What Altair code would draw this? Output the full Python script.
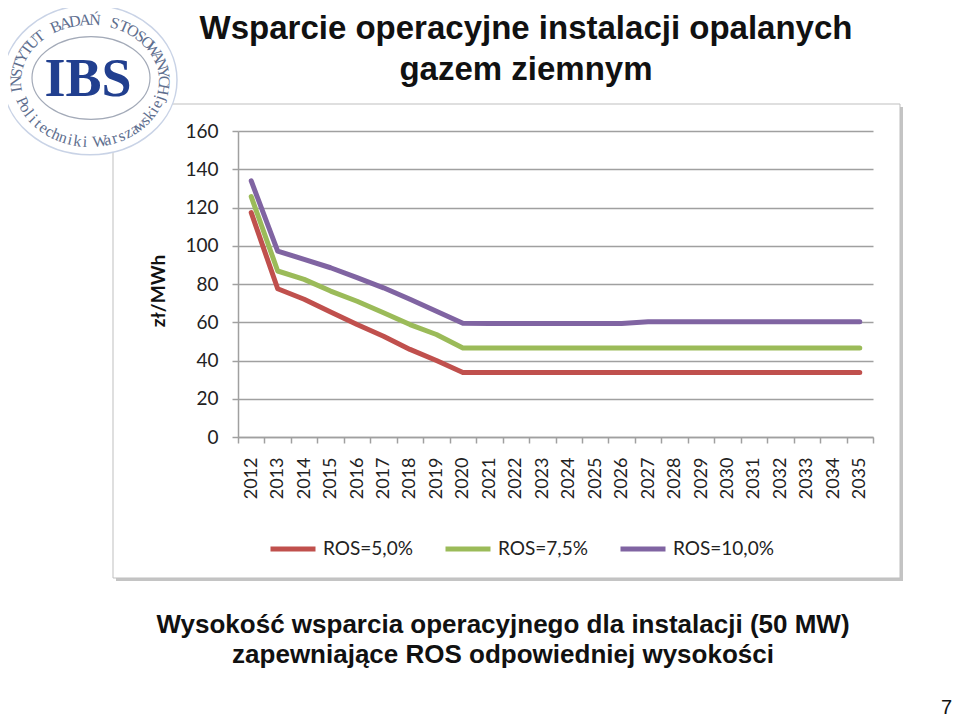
import altair as alt
import pandas as pd
import numpy as np

# ---------------- data ----------------
years = list(range(2012, 2036))
series_names = ["ROS=5,0%", "ROS=7,5%", "ROS=10,0%"]
series_colors = ["#C0504D", "#9BBB59", "#8064A2"]
ros_5 = [117.3, 77.5, 72.0, 65.3, 58.8, 52.7, 45.8, 40.0, 33.7,
         33.7, 33.7, 33.7, 33.7, 33.7, 33.7, 33.7, 33.7, 33.7,
         33.7, 33.7, 33.7, 33.7, 33.7, 33.7]
ros_75 = [125.7, 86.8, 82.4, 76.3, 71.0, 65.0, 58.8, 53.6, 46.5,
          46.5, 46.5, 46.5, 46.5, 46.5, 46.5, 46.5, 46.5, 46.5,
          46.5, 46.5, 46.5, 46.5, 46.5, 46.5]
ros_10 = [133.9, 97.2, 92.9, 88.5, 83.3, 78.0, 72.0, 65.8, 59.5,
          59.4, 59.4, 59.4, 59.4, 59.4, 59.4, 60.2, 60.2, 60.2,
          60.2, 60.2, 60.2, 60.2, 60.2, 60.2]
y_ticks = [0, 20, 40, 60, 80, 100, 120, 140, 160]
x_tick_bounds = [y - 0.5 for y in years] + [years[-1] + 0.5]

title_lines = ["Wsparcie operacyjne instalacji opalanych", "gazem ziemnym"]
caption_lines = ["Wysokość wsparcia operacyjnego dla instalacji (50 MW)",
                 "zapewniające ROS odpowiedniej wysokości"]
y_title = "zł/MWh"
page_no = "7"
logo_top = "INSTYTUT BADAŃ STOSOWANYCH"
logo_bottom = "Politechniki Warszawskiej"

rows = []
for name, vals in zip(series_names, [ros_5, ros_75, ros_10]):
    for yr, v in zip(years, vals):
        rows.append({"year": yr, "value": v, "series": name})
df = pd.DataFrame(rows)

# plot origin in page coords: (238, 131)
OX, OY = 238, 131
W, H = 635, 306

one = alt.Data(values=[{}])

# ---------------- main lines ----------------
lines = alt.Chart(df).mark_line(strokeWidth=5, strokeCap="round", strokeJoin="round").encode(
    x=alt.X("year:Q",
            scale=alt.Scale(domain=[2011.5, 2035.5], nice=False, zero=False),
            axis=alt.Axis(values=x_tick_bounds,
                          labelExpr="datum.value < 2035 ? format(datum.value + 0.5, 'd') : ''",
                          labelOffset=W / 48.0, labelAngle=270, labelFlush=False,
                          labelOverlap=False, labelBound=False,
                          labelFont="Lato", labelFontSize=18, labelColor="#222222",
                          labelPadding=14, tickSize=6, tickColor="#A0A0A0", tickWidth=1.5,
                          domainColor="#A0A0A0", domainWidth=1.5, grid=False, title=None)),
    y=alt.Y("value:Q",
            scale=alt.Scale(domain=[0, 160], nice=False, zero=True),
            axis=alt.Axis(values=y_ticks, format="d", labelFont="Lato", labelFontSize=19,
                          labelColor="#222222", labelPadding=14, tickSize=6,
                          tickColor="#A0A0A0", tickWidth=1.5, domainColor="#A0A0A0",
                          domainWidth=1.5, grid=True, gridColor="#A0A0A0", gridWidth=1.5,
                          title=None)),
    color=alt.Color("series:N",
                    scale=alt.Scale(domain=series_names, range=series_colors),
                    legend=alt.Legend(orient="none", legendX=30, legendY=393,
                                      direction="horizontal", title=None,
                                      symbolType="stroke", symbolSize=2025,
                                      symbolStrokeWidth=5, labelFont="Lato",
                                      labelFontSize=19, labelColor="#222222",
                                      labelOffset=5, columnPadding=22)),
)

# ---------------- frame ----------------
frame = alt.Chart(one).mark_rect(fillOpacity=0, stroke="#BFBFBF", strokeWidth=1).encode(
    x=alt.value(113 - OX), x2=alt.value(900 - OX), y=alt.value(104 - OY), y2=alt.value(578 - OY))
shadow_r = alt.Chart(one).mark_rect(fill="#C4C4C4").encode(
    x=alt.value(900 - OX), x2=alt.value(903 - OX), y=alt.value(107 - OY), y2=alt.value(581 - OY))
shadow_b = alt.Chart(one).mark_rect(fill="#C4C4C4").encode(
    x=alt.value(116 - OX), x2=alt.value(903 - OX), y=alt.value(578 - OY), y2=alt.value(581 - OY))

# ---------------- logo ----------------
def ellipse_path(ratio):
    return f"M -1 0 A 1 {ratio} 0 1 1 1 0 A 1 {ratio} 0 1 1 -1 0 Z"

logo_bg = alt.Chart(one).mark_point(shape=ellipse_path(0.86), size=174 ** 2, filled=True,
                                    fill="white", stroke="#C9D3E6", strokeWidth=1.5,
                                    opacity=1).encode(
    x=alt.value(90 - OX), y=alt.value(80 - OY))
logo_inner = alt.Chart(one).mark_point(shape=ellipse_path(0.7), size=118 ** 2, filled=False,
                                       stroke="#A3AAB8", strokeWidth=1.2, opacity=1).encode(
    x=alt.value(91 - OX), y=alt.value(78 - OY))
logo_ibs = alt.Chart(one).mark_text(text="IBS", font="Liberation Serif", fontWeight="bold",
                                    fontSize=54, color="#213F8F", align="center",
                                    baseline="middle").encode(
    x=alt.value(88 - OX), y=alt.value(80 - OY))

cx, cy, rx, ry = 90 - OX, 81 - OY, 74, 61
ring = []
t_top = np.radians(np.linspace(172, 368, len(logo_top)))
for ch, t in zip(logo_top, t_top):
    ang = np.degrees(np.arctan2(ry * np.cos(t), -rx * np.sin(t))) % 360
    ring.append({"ch": ch, "px": cx + rx * np.cos(t), "py": cy + ry * np.sin(t), "ang": ang})
t_bot = np.radians(np.linspace(160, 16, len(logo_bottom)))
for ch, t in zip(logo_bottom, t_bot):
    ang = np.degrees(np.arctan2(-ry * np.cos(t), rx * np.sin(t))) % 360
    ring.append({"ch": ch, "px": cx + (rx - 2) * np.cos(t), "py": cy + ry * np.sin(t), "ang": ang})
ring_df = pd.DataFrame(ring)
logo_ring = alt.Chart(ring_df).mark_text(font="Liberation Serif", fontSize=16, color="#5E6E8E",
                                         align="center", baseline="middle").encode(
    x=alt.X("px:Q", scale=None), y=alt.Y("py:Q", scale=None),
    angle=alt.Angle("ang:Q", scale=None), text="ch:N")

# ---------------- texts ----------------
title = alt.Chart(one).mark_text(text=title_lines, font="Liberation Sans", fontWeight="bold",
                                 fontSize=33, lineHeight=41, color="#111111", align="center",
                                 baseline="alphabetic").encode(
    x=alt.value(526 - OX), y=alt.value(39 - OY))
caption = alt.Chart(one).mark_text(text=caption_lines, font="Liberation Sans", fontWeight="bold",
                                   fontSize=26, lineHeight=30, color="#111111", align="center",
                                   baseline="alphabetic").encode(
    x=alt.value(503 - OX), y=alt.value(633 - OY))
ytitle = alt.Chart(one).mark_text(text=y_title, font="Lato", fontWeight="bold", fontSize=19,
                                  color="#111111", align="center", baseline="middle",
                                  angle=270).encode(
    x=alt.value(159 - OX), y=alt.value(291 - OY))
pagenum = alt.Chart(one).mark_text(text=page_no, font="Liberation Sans", fontSize=20,
                                   color="#111111", align="right", baseline="alphabetic").encode(
    x=alt.value(952 - OX), y=alt.value(714 - OY))

chart = alt.layer(
    shadow_r, shadow_b, frame, logo_bg, logo_inner, logo_ring, logo_ibs,
    lines, title, caption, ytitle, pagenum
).resolve_scale(x="independent", y="independent").properties(
    width=W, height=H,
    autosize=alt.AutoSizeParams(type="none"),
    padding={"left": OX - 8, "top": OY - 8, "right": 944 - (OX - 8) - W, "bottom": 712 - (OY - 8) - H},
).configure(background="white").configure_view(stroke=None)

chart.save("out.html", embed_options={"renderer": "svg", "actions": False})
